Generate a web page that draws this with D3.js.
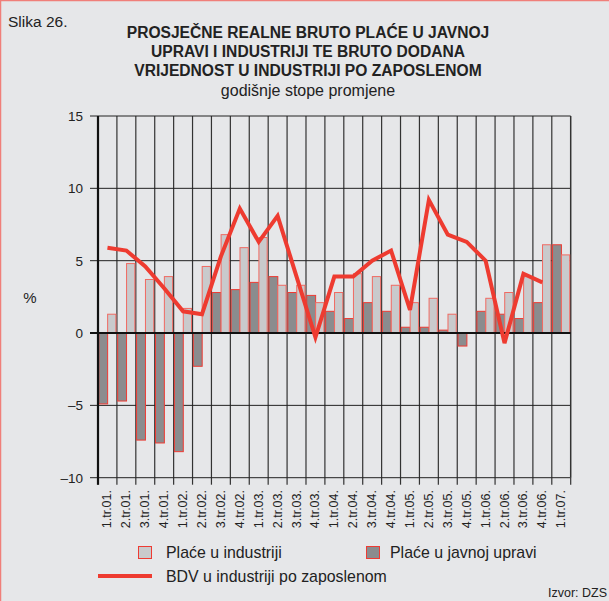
<!DOCTYPE html>
<html>
<head>
<meta charset="utf-8">
<script src="https://cdn.jsdelivr.net/npm/d3@7"></script>
<style>
html,body{margin:0;padding:0;background:#e6e7e9;}
svg{display:block;font-family:"Liberation Sans",Arial,Helvetica,sans-serif;}
</style>
</head>
<body>
<svg id="chart" width="609" height="601"></svg>
<script>
const categories = ["1.tr.01.","2.tr.01.","3.tr.01.","4.tr.01.","1.tr.02.","2.tr.02.","3.tr.02.","4.tr.02.",
  "1.tr.03.","2.tr.03.","3.tr.03.","4.tr.03.","1.tr.04.","2.tr.04.","3.tr.04.","4.tr.04.",
  "1.tr.05.","2.tr.05.","3.tr.05.","4.tr.05.","1.tr.06.","2.tr.06.","3.tr.06.","4.tr.06.","1.tr.07."];
const industryWages = [1.3,4.8,3.7,3.9,1.7,4.6,6.8,5.9,6.6,3.3,3.3,2.1,2.8,4.1,3.9,3.3,2.1,2.4,1.3,0,2.4,2.8,3.9,6.1,5.4];
const publicWages = [-4.9,-4.7,-7.4,-7.6,-8.2,-2.3,2.8,3.0,3.5,3.9,2.8,2.6,1.5,1.0,2.1,1.5,0.4,0.4,0.2,-0.9,1.5,1.3,1.0,2.1,6.1];
const gvaPerEmployee = [5.9,5.7,4.6,3.1,1.5,1.3,5.3,8.6,6.3,8.1,3.9,-0.3,3.9,3.9,5.0,5.7,1.6,9.2,6.8,6.3,5.0,-0.7,4.1,3.5,null];
const yTicks = [15,10,5,0,-5,-10];

(function(){
const svg = d3.select("#chart");
const W = 609, H = 601;
const pL = 98, pR = 570.7, pT = 116, pB = 477.7;

svg.append("rect").attr("width",W).attr("height",H).attr("fill","#e6e7e9");
svg.append("line").attr("x1",0.5).attr("x2",0.5).attr("y1",0).attr("y2",H).attr("stroke","#f07f7a").attr("stroke-width",1.5);
svg.append("line").attr("x1",0).attr("x2",W).attr("y1",0.5).attr("y2",0.5).attr("stroke","#f07f7a").attr("stroke-width",1.5);

svg.append("text").attr("x",8).attr("y",27).attr("font-size",15.5).attr("fill","#222").text("Slika 26.");
const titleLines = ["PROSJEČNE REALNE BRUTO PLAĆE U JAVNOJ","UPRAVI I INDUSTRIJI TE BRUTO DODANA","VRIJEDNOST U INDUSTRIJI PO ZAPOSLENOM"];
titleLines.forEach((t,i)=>{
  svg.append("text").attr("x",308).attr("y",38+i*19).attr("text-anchor","middle")
    .attr("font-size",15.6).attr("font-weight","bold").attr("fill","#222").text(t);
});
svg.append("text").attr("x",308).attr("y",96).attr("text-anchor","middle").attr("font-size",16).attr("fill","#222").text("godišnje stope promjene");

const x = d3.scaleBand().domain(categories).range([pL,pR]).paddingInner(0).paddingOuter(0);
const y = d3.scaleLinear().domain([-10,15]).range([pB,pT]);
const bw = x.bandwidth();

const g = svg.append("g");
const bounds = d3.range(1,categories.length).map(i=>pL+i*bw);
g.selectAll(".vg").data(bounds).enter().append("line")
  .attr("x1",d=>d).attr("x2",d=>d).attr("y1",pT).attr("y2",pB)
  .attr("stroke","#333").attr("stroke-width",1.2);
g.selectAll(".bt").data([pL].concat(bounds).concat([pR])).enter().append("line")
  .attr("x1",d=>d).attr("x2",d=>d).attr("y1",pB).attr("y2",pB+7)
  .attr("stroke","#333").attr("stroke-width",1.2);
g.selectAll(".hg").data(yTicks.filter(v=>v!==0)).enter().append("line")
  .attr("x1",pL-8).attr("x2",pR).attr("y1",d=>y(d)).attr("y2",d=>y(d))
  .attr("stroke","#222").attr("stroke-width",1);
g.append("line").attr("x1",pR).attr("x2",pR).attr("y1",pT).attr("y2",pB).attr("stroke","#333").attr("stroke-width",1.5);

const barW = bw*0.47;
g.selectAll(".pub").data(categories).enter().append("rect")
  .attr("x",d=>x(d)+bw*0.04)
  .attr("width",barW)
  .attr("y",(d,i)=>y(Math.max(0,publicWages[i])))
  .attr("height",(d,i)=>Math.abs(y(publicWages[i])-y(0)))
  .attr("fill","#8b8c8e").attr("stroke","#ee3b33").attr("stroke-width",1);
g.selectAll(".ind").data(categories).enter().append("rect")
  .attr("x",d=>x(d)+bw*0.04+barW)
  .attr("width",barW*0.93)
  .attr("y",(d,i)=>y(Math.max(0,industryWages[i])))
  .attr("height",(d,i)=>Math.abs(y(industryWages[i])-y(0)))
  .attr("fill","#c9cacc").attr("stroke","#f06a62").attr("stroke-width",1)
  .attr("display",(d,i)=>industryWages[i]===0?"none":null);

g.append("line").attr("x1",pL-8).attr("x2",pR).attr("y1",y(0)).attr("y2",y(0)).attr("stroke","#111").attr("stroke-width",2.2);
g.append("line").attr("x1",pL).attr("x2",pL).attr("y1",pT).attr("y2",pB+7).attr("stroke","#111").attr("stroke-width",2.2);

const line = d3.line().defined(d=>d!==null).x((d,i)=>x(categories[i])+bw/2).y(d=>y(d));
g.append("path").datum(gvaPerEmployee).attr("d",line).attr("fill","none")
  .attr("stroke","#ee3b30").attr("stroke-width",4).attr("stroke-linejoin","miter");

svg.selectAll(".yl").data(yTicks).enter().append("text")
  .attr("x",83).attr("y",d=>y(d)+5).attr("text-anchor","end").attr("font-size",13.5).attr("fill","#222")
  .text(d=>d<0?"\u2013"+Math.abs(d):d);
svg.append("text").attr("x",30).attr("y",303).attr("text-anchor","middle").attr("font-size",15).attr("fill","#222").text("%");

svg.selectAll(".xl").data(categories).enter().append("text")
  .attr("transform",d=>`translate(${x(d)+bw/2+4},490) rotate(-90)`)
  .attr("text-anchor","end").attr("font-size",12.5).attr("fill","#222").text(d=>d);

svg.append("rect").attr("x",138.5).attr("y",546.5).attr("width",13).attr("height",12).attr("fill","#c9cacc").attr("stroke","#ee3b33");
svg.append("text").attr("x",166).attr("y",558).attr("font-size",15.9).attr("fill","#222").text("Plaće u industriji");
svg.append("rect").attr("x",366.5).attr("y",546.5).attr("width",13).attr("height",12).attr("fill","#8b8c8e").attr("stroke","#ee3b33");
svg.append("text").attr("x",390).attr("y",558).attr("font-size",15.9).attr("fill","#222").text("Plaće u javnoj upravi");
svg.append("line").attr("x1",98).attr("x2",152).attr("y1",576).attr("y2",576).attr("stroke","#ee3b30").attr("stroke-width",4);
svg.append("text").attr("x",166).attr("y",582).attr("font-size",15.9).attr("fill","#222").text("BDV u industriji po zaposlenom");
svg.append("text").attr("x",607).attr("y",597).attr("text-anchor","end").attr("font-size",12.5).attr("fill","#222").text("Izvor: DZS");
})();
</script>
</body>
</html>
